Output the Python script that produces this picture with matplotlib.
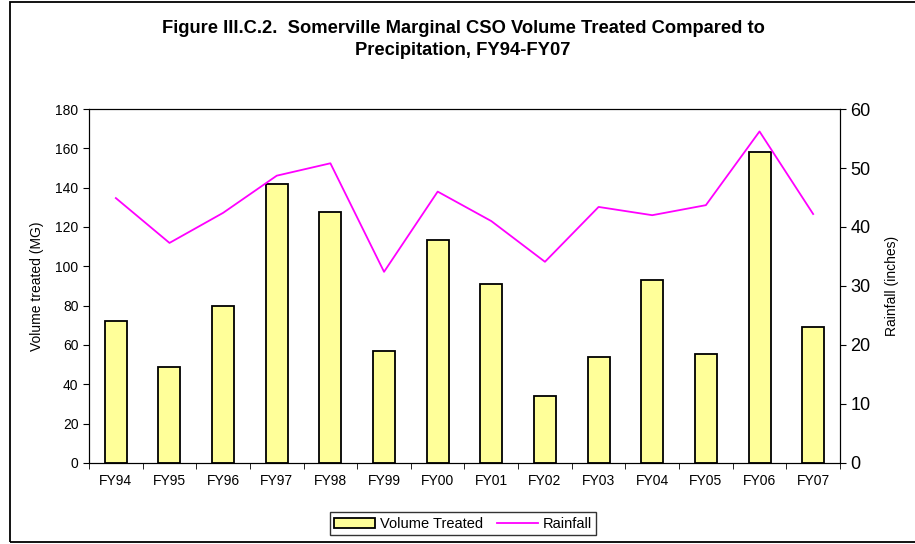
import matplotlib
matplotlib.use("Agg")
import matplotlib.pyplot as plt
from matplotlib.patches import Rectangle
from matplotlib.ticker import FixedLocator, MultipleLocator

plt.rcParams["font.family"] = ["Liberation Sans", "DejaVu Sans"]

years = ["FY94", "FY95", "FY96", "FY97", "FY98", "FY99", "FY00",
         "FY01", "FY02", "FY03", "FY04", "FY05", "FY06", "FY07"]
volume_mg = [72, 49, 80, 142, 127.5, 57, 113.5, 91, 34, 54, 93, 55.5, 158.3, 69]
rainfall_in = [44.9, 37.3, 42.4, 48.7, 50.8, 32.4, 46.0,
               41.0, 34.1, 43.4, 42.0, 43.7, 56.2, 42.2]

fig = plt.figure(figsize=(9.15, 5.44), dpi=100)
# page frame: the right edge runs off the picture in the reference
fig.patches.append(Rectangle((0.0104, 0.0037), 1.0, 0.9935, transform=fig.transFigure,
                             fill=False, edgecolor="black", linewidth=1.3))

ax = fig.add_axes([0.0973, 0.149, 0.8207, 0.6506])
x = list(range(len(years)))
bars = ax.bar(x, volume_mg, width=0.41, color="#ffff99", edgecolor="black",
              linewidth=1.3, label="Volume Treated", zorder=2)
ax.set_xlim(-0.5, len(years) - 0.5)
ax.set_ylim(0, 180)
ax.yaxis.set_major_locator(MultipleLocator(20))
ax.set_xticks(x)
ax.set_xticklabels(years, fontsize=10)
ax.xaxis.set_minor_locator(FixedLocator([i - 0.5 for i in range(len(years) + 1)]))
ax.tick_params(axis="x", which="major", length=0, pad=8)
ax.tick_params(axis="x", which="minor", length=4, direction="out")
ax.tick_params(axis="y", labelsize=10, length=4, direction="out")
ax.set_ylabel("Volume treated (MG)", fontsize=10, labelpad=8)

ax2 = ax.twinx()
line, = ax2.plot(x, rainfall_in, color="#ff00ff", linewidth=1.3, label="Rainfall", zorder=3)
ax2.set_ylim(0, 60)
ax2.yaxis.set_major_locator(MultipleLocator(10))
ax2.tick_params(axis="y", labelsize=13, length=4, direction="out")
ax2.set_ylabel("Rainfall (inches)", fontsize=10, labelpad=10)

fig.text(0.506, 0.948, "Figure III.C.2.  Somerville Marginal CSO Volume Treated Compared to",
         ha="center", va="center", fontsize=13.2, fontweight="bold")
fig.text(0.506, 0.907, "Precipitation, FY94-FY07",
         ha="center", va="center", fontsize=13.2, fontweight="bold")

leg = fig.legend([bars, line], ["Volume Treated", "Rainfall"], loc="center",
                 bbox_to_anchor=(0.506, 0.037), ncol=2, fontsize=10.5, frameon=True,
                 fancybox=False, edgecolor="black", handlelength=2.8,
                 handletextpad=0.3, columnspacing=1.0, borderpad=0.3)
leg.get_frame().set_linewidth(1.0)

fig.savefig("out.png", dpi=100)
